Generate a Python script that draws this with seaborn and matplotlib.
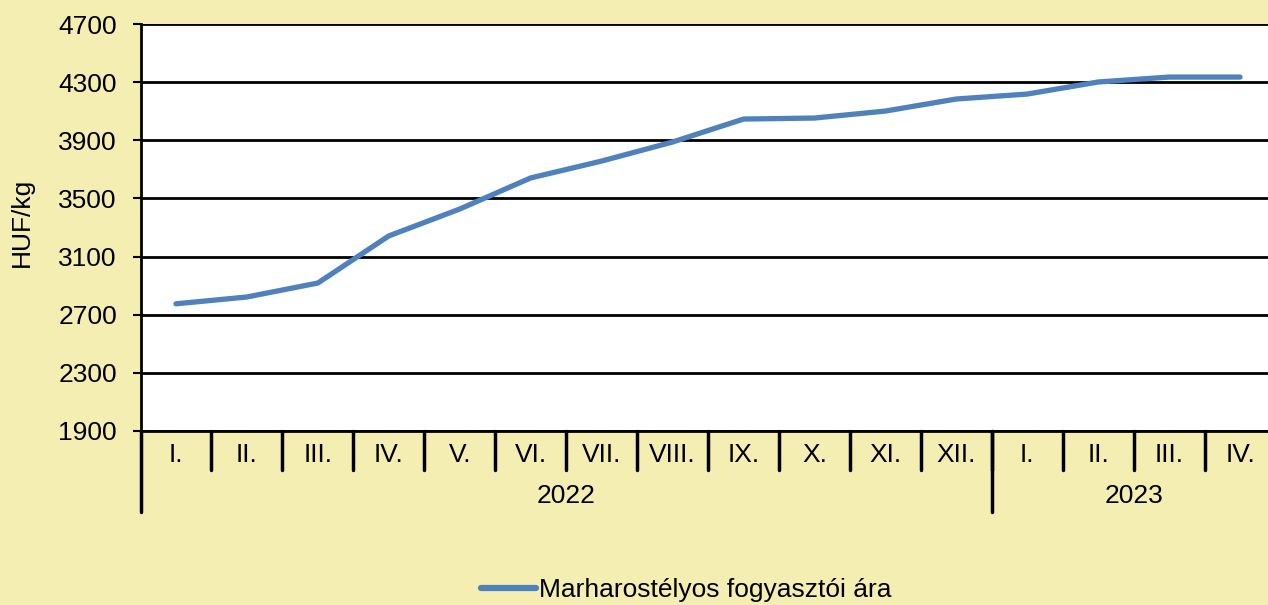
import matplotlib
matplotlib.use("Agg")
import matplotlib.pyplot as plt
import matplotlib.transforms as mtransforms
import seaborn as sns
import pandas as pd

months = ["I.", "II.", "III.", "IV.", "V.", "VI.", "VII.", "VIII.", "IX.", "X.", "XI.", "XII.",
          "I.", "II.", "III.", "IV."]
years = ["2022", "2023"]
year_counts = [12, 4]
prices = [2775, 2822, 2918, 3242, 3427, 3641, 3757, 3888, 4046, 4053, 4101, 4184,
          4218, 4301, 4335, 4335]
series_name = "Marharostélyos fogyasztói ára"
y_ticks = [1900, 2300, 2700, 3100, 3500, 3900, 4300, 4700]

BG = "#F4EEB3"
LINE = "#4F81BD"
FS = 19

sns.set_theme(style="white")
plt.rcParams["font.family"] = ["Liberation Sans", "DejaVu Sans"]
plt.rcParams["text.color"] = "black"
plt.rcParams["axes.labelcolor"] = "black"
plt.rcParams["ytick.color"] = "black"

fig = plt.figure(figsize=(12.68, 6.05), dpi=100, facecolor=BG)
ax = fig.add_axes([140.5 / 1268, 174 / 605, 1135 / 1268, 407 / 605])
ax.set_facecolor("white")

df = pd.DataFrame({"pos": list(range(len(months))), "price": prices, "series": series_name})
sns.lineplot(data=df, x="pos", y="price", hue="series", palette=[LINE], lw=3.8,
             ax=ax, solid_capstyle="round")

ax.set_xlim(-0.5, len(months) - 0.5)
ax.set_ylim(y_ticks[0], y_ticks[-1])
ax.set_yticks(y_ticks)
ax.set_yticklabels([str(t) for t in y_ticks], fontsize=FS)
ax.yaxis.grid(True, color="black", lw=2)
ax.xaxis.grid(False)
ax.set_xticks([])
ax.set_xlabel("")
ax.set_ylabel("")
fig.text(22 / 1268, 1 - 222 / 605, "HUF/kg", rotation=90, ha="center", va="center", fontsize=FS)
ax.tick_params(axis="y", which="both", left=True, length=6, width=1.5, color="black", pad=11)
for s in ["top", "right"]:
    ax.spines[s].set_visible(False)
for s in ["left", "bottom"]:
    ax.spines[s].set_color("black")
    ax.spines[s].set_linewidth(2)

trans = mtransforms.blended_transform_factory(ax.transData, ax.transAxes)
h_ax = 407.0
# month separators and labels
for i, m in enumerate(months):
    ax.text(i, -24 / h_ax, m, transform=trans, ha="center", va="center", fontsize=FS)
for i in range(1, len(months)):
    ax.plot([i - 0.5, i - 0.5], [0, -39 / h_ax], transform=trans, color="black", lw=2.5,
            clip_on=False)
# year separators and labels
start = 0
boundaries = [-0.5]
for y, c in zip(years, year_counts):
    center = start + (c - 1) / 2
    ax.text(center, -65 / h_ax, y, transform=trans, ha="center", va="center", fontsize=FS)
    start += c
    boundaries.append(start - 0.5)
for b in boundaries[:-1]:
    ax.plot([b, b], [0, -81 / h_ax], transform=trans, color="black", lw=2.5, clip_on=False)

leg = ax.legend(loc="center", bbox_to_anchor=((686 - 140.5) / 1135, (-(590 - 431)) / h_ax),
                frameon=False, fontsize=FS, handlelength=2.1, handletextpad=0.1, borderpad=0)
for line in leg.get_lines():
    line.set_linewidth(4.5)

fig.savefig("out.png", dpi=100, facecolor=BG)
